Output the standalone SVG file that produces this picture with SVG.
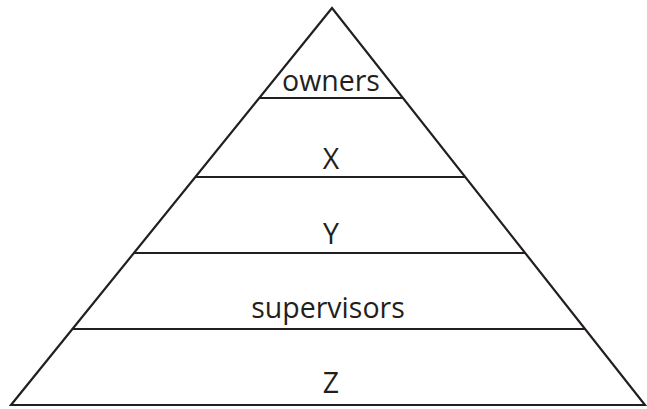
<svg xmlns="http://www.w3.org/2000/svg" width="647" height="409" viewBox="0 0 647 409">
<style>
.ln{stroke:#231f20;stroke-width:2.2;fill:none}
.t{font-family:"Open Sans","Liberation Sans",sans-serif;font-size:28.5px;fill:#231f20;text-anchor:middle}
</style>
<rect width="647" height="409" fill="#fff"/>
<g id="connectors">
<polygon class="ln" points="332,8 11,405 645,405"/>
<line class="ln" x1="259" y1="98" x2="403" y2="98"/>
<line class="ln" x1="195" y1="177" x2="466" y2="177"/>
<line class="ln" x1="134" y1="253" x2="526" y2="253"/>
<line class="ln" x1="72" y1="329" x2="586" y2="329"/>
</g>
<g id="owners"><text class="t" x="331" y="91">owners</text></g>
<g id="x"><text class="t" x="331" y="169">X</text></g>
<g id="y"><text class="t" x="331" y="244">Y</text></g>
<g id="supervisors"><text class="t" x="328" y="318">supervisors</text></g>
<g id="z"><text class="t" x="331" y="393">Z</text></g>
</svg>
